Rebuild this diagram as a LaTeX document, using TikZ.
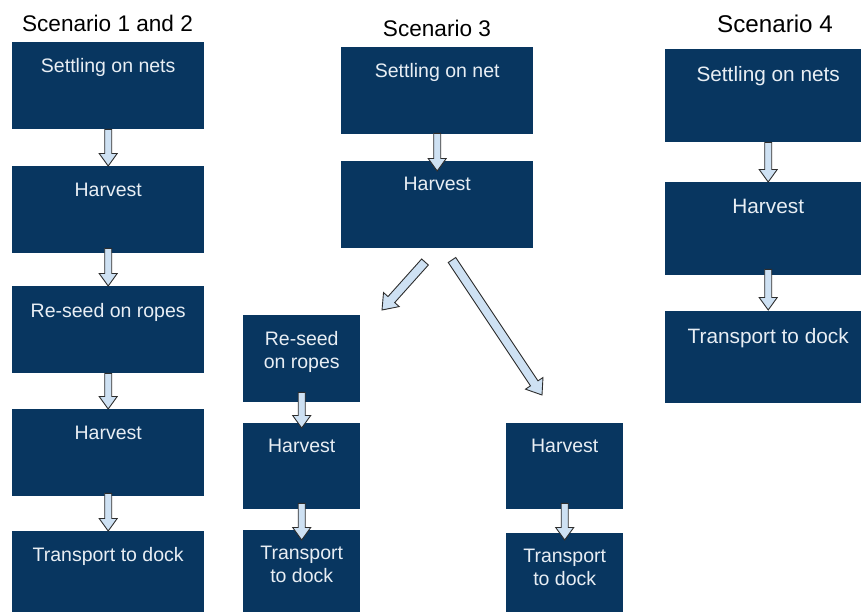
\documentclass[tikz,border=0pt]{standalone}
\usepackage{fontspec}
\setmainfont{Liberation Sans}
\usetikzlibrary{calc}
\definecolor{boxblue}{RGB}{8,54,96}
\definecolor{boxtxt}{RGB}{232,238,244}
\definecolor{arrfill}{RGB}{206,225,243}
\definecolor{arrline}{RGB}{45,45,45}
\tikzset{
  stepbox/.style={fill=boxblue, draw=none, inner sep=0pt, anchor=north west, minimum width=#1},
  boxtext/.style={text=boxtxt, inner sep=0pt, anchor=north, align=center,
    font=\fontsize{19.5}{23}\selectfont},
  bigboxtext/.style={boxtext, font=\fontsize{20.8}{24}\selectfont},
  title/.style={text=black, inner sep=0pt, anchor=base, font=\fontsize{22.6}{26}\selectfont},
  bigtitle/.style={title, font=\fontsize{24.2}{28}\selectfont},
  arrowstyle/.style={fill=arrfill, draw=arrline, line width=0.9pt, line join=miter}
}
% #1 start, #2 tip, #3 half shaft width, #4 half head width, #5 head length
\newcommand\blockarrow[5]{%
  \coordinate (bahead) at ($(#2)!#5!(#1)$);
  \draw[arrowstyle] ($(#1)!#3!90:(#2)$) -- ($(bahead)!#3!90:(#2)$) -- ($(bahead)!#4!90:(#2)$)
    -- (#2) -- ($(bahead)!#4!-90:(#2)$) -- ($(bahead)!#3!-90:(#2)$) -- ($(#1)!#3!-90:(#2)$) -- cycle;}
\begin{document}
\begin{tikzpicture}[x=1pt,y=-1pt]
\useasboundingbox (0,0) rectangle (861,612);
\clip (0,0) rectangle (861,612);
% titles
\node[title] (t1) at (107.5,32) {Scenario 1 and 2};
\node[title] (t2) at (437,37) {Scenario 3};
\node[bigtitle] (t3) at (775,33) {Scenario 4};
% column 1
\node[stepbox=192pt, minimum height=87pt] (a1) at (12,42) {};
\node[stepbox=192pt, minimum height=87pt] (a2) at (12,166) {};
\node[stepbox=192pt, minimum height=87pt] (a3) at (12,286) {};
\node[stepbox=192pt, minimum height=87pt] (a4) at (12,409) {};
\node[stepbox=192pt, minimum height=87pt] (a5) at (12,531) {};
\node[boxtext] (a1t) at ([yshift=-16.5pt]a1.north) {Settling on nets};
\node[boxtext] (a2t) at ([yshift=-17pt]a2.north) {Harvest};
\node[boxtext] (a3t) at ([yshift=-17pt]a3.north) {Re-seed on ropes};
\node[boxtext] (a4t) at ([yshift=-16.5pt]a4.north) {Harvest};
\node[boxtext] (a5t) at ([yshift=-16.5pt]a5.north) {Transport to dock};
% column 2
\node[stepbox=192pt, minimum height=87pt] (b1) at (341,47) {};
\node[stepbox=192pt, minimum height=87pt] (b2) at (341,161) {};
\node[stepbox=117pt, minimum height=87pt] (l1) at (243,315) {};
\node[stepbox=117pt, minimum height=86pt] (l2) at (243,423) {};
\node[stepbox=117pt, minimum height=87pt] (l3) at (243,530) {};
\node[stepbox=117pt, minimum height=86pt] (r1) at (506,423) {};
\node[stepbox=117pt, minimum height=87pt] (r2) at (506,533) {};
\node[boxtext] (b1t) at ([yshift=-16pt]b1.north) {Settling on net};
\node[boxtext] (b2t) at ([yshift=-16pt]b2.north) {Harvest};
\node[boxtext] (l1t) at ([yshift=-16pt]l1.north) {Re-seed\\on ropes};
\node[boxtext] (l2t) at ([yshift=-16pt]l2.north) {Harvest};
\node[boxtext] (l3t) at ([yshift=-16pt]l3.north) {Transport\\to dock};
\node[boxtext] (r1t) at ([yshift=-16pt]r1.north) {Harvest};
\node[boxtext] (r2t) at ([yshift=-16pt]r2.north) {Transport\\to dock};
% column 3
\node[stepbox=206pt, minimum height=93pt] (c1) at (665,49) {};
\node[stepbox=206pt, minimum height=93pt] (c2) at (665,182) {};
\node[stepbox=206pt, minimum height=92pt] (c3) at (665,311) {};
\node[bigboxtext] (c1t) at ([yshift=-17pt]c1.north) {Settling on nets};
\node[bigboxtext] (c2t) at ([yshift=-16.5pt]c2.north) {Harvest};
\node[bigboxtext] (c3t) at ([yshift=-17pt]c3.north) {Transport to dock};
% arrow end points
\coordinate (a1s) at (a1.south);
\coordinate (a2n) at (a2.north);
\coordinate (a2s) at ([yshift=5pt]a2.south);
\coordinate (a3n) at (a3.north);
\coordinate (a3s) at (a3.south);
\coordinate (a4n) at (a4.north);
\coordinate (a4s) at ([yshift=3pt]a4.south);
\coordinate (a5n) at (a5.north);
\coordinate (b1s) at ([yshift=1pt]b1.south);
\coordinate (b2n) at ([yshift=-10pt]b2.north);
\coordinate (l1s) at ([yshift=10pt]l1.south);
\coordinate (l2n) at ([yshift=-5pt]l2.north);
\coordinate (l2s) at ([yshift=6pt]l2.south);
\coordinate (l3n) at ([yshift=-10pt]l3.north);
\coordinate (r1s) at ([yshift=6pt]r1.south);
\coordinate (r2n) at ([yshift=-7pt]r2.north);
\coordinate (c1s) at (c1.south);
\coordinate (c2n) at (c2.north);
\coordinate (c2s) at ([yshift=6pt]c2.south);
\coordinate (c3n) at ([yshift=1pt]c3.north);
\coordinate (dls) at (425,262);
\coordinate (dle) at (382,310);
\coordinate (drs) at (452,260);
\coordinate (dre) at (542,395);
% arrows
\blockarrow{a1s}{a2n}{3.5pt}{9pt}{12.5pt}
\blockarrow{a2s}{a3n}{3.5pt}{9pt}{12.5pt}
\blockarrow{a3s}{a4n}{3.5pt}{9pt}{12.5pt}
\blockarrow{a4s}{a5n}{3.5pt}{9pt}{12.5pt}
\blockarrow{b1s}{b2n}{3.5pt}{9pt}{12.5pt}
\blockarrow{l1s}{l2n}{3.5pt}{9pt}{12.5pt}
\blockarrow{l2s}{l3n}{3.5pt}{9pt}{12.5pt}
\blockarrow{r1s}{r2n}{3.5pt}{9pt}{12.5pt}
\blockarrow{c1s}{c2n}{3.5pt}{9pt}{12.5pt}
\blockarrow{c2s}{c3n}{3.5pt}{9pt}{12.5pt}
\blockarrow{dls}{dle}{4.5pt}{10.5pt}{14pt}
\blockarrow{drs}{dre}{4.5pt}{10.5pt}{14pt}
\end{tikzpicture}
\end{document}
